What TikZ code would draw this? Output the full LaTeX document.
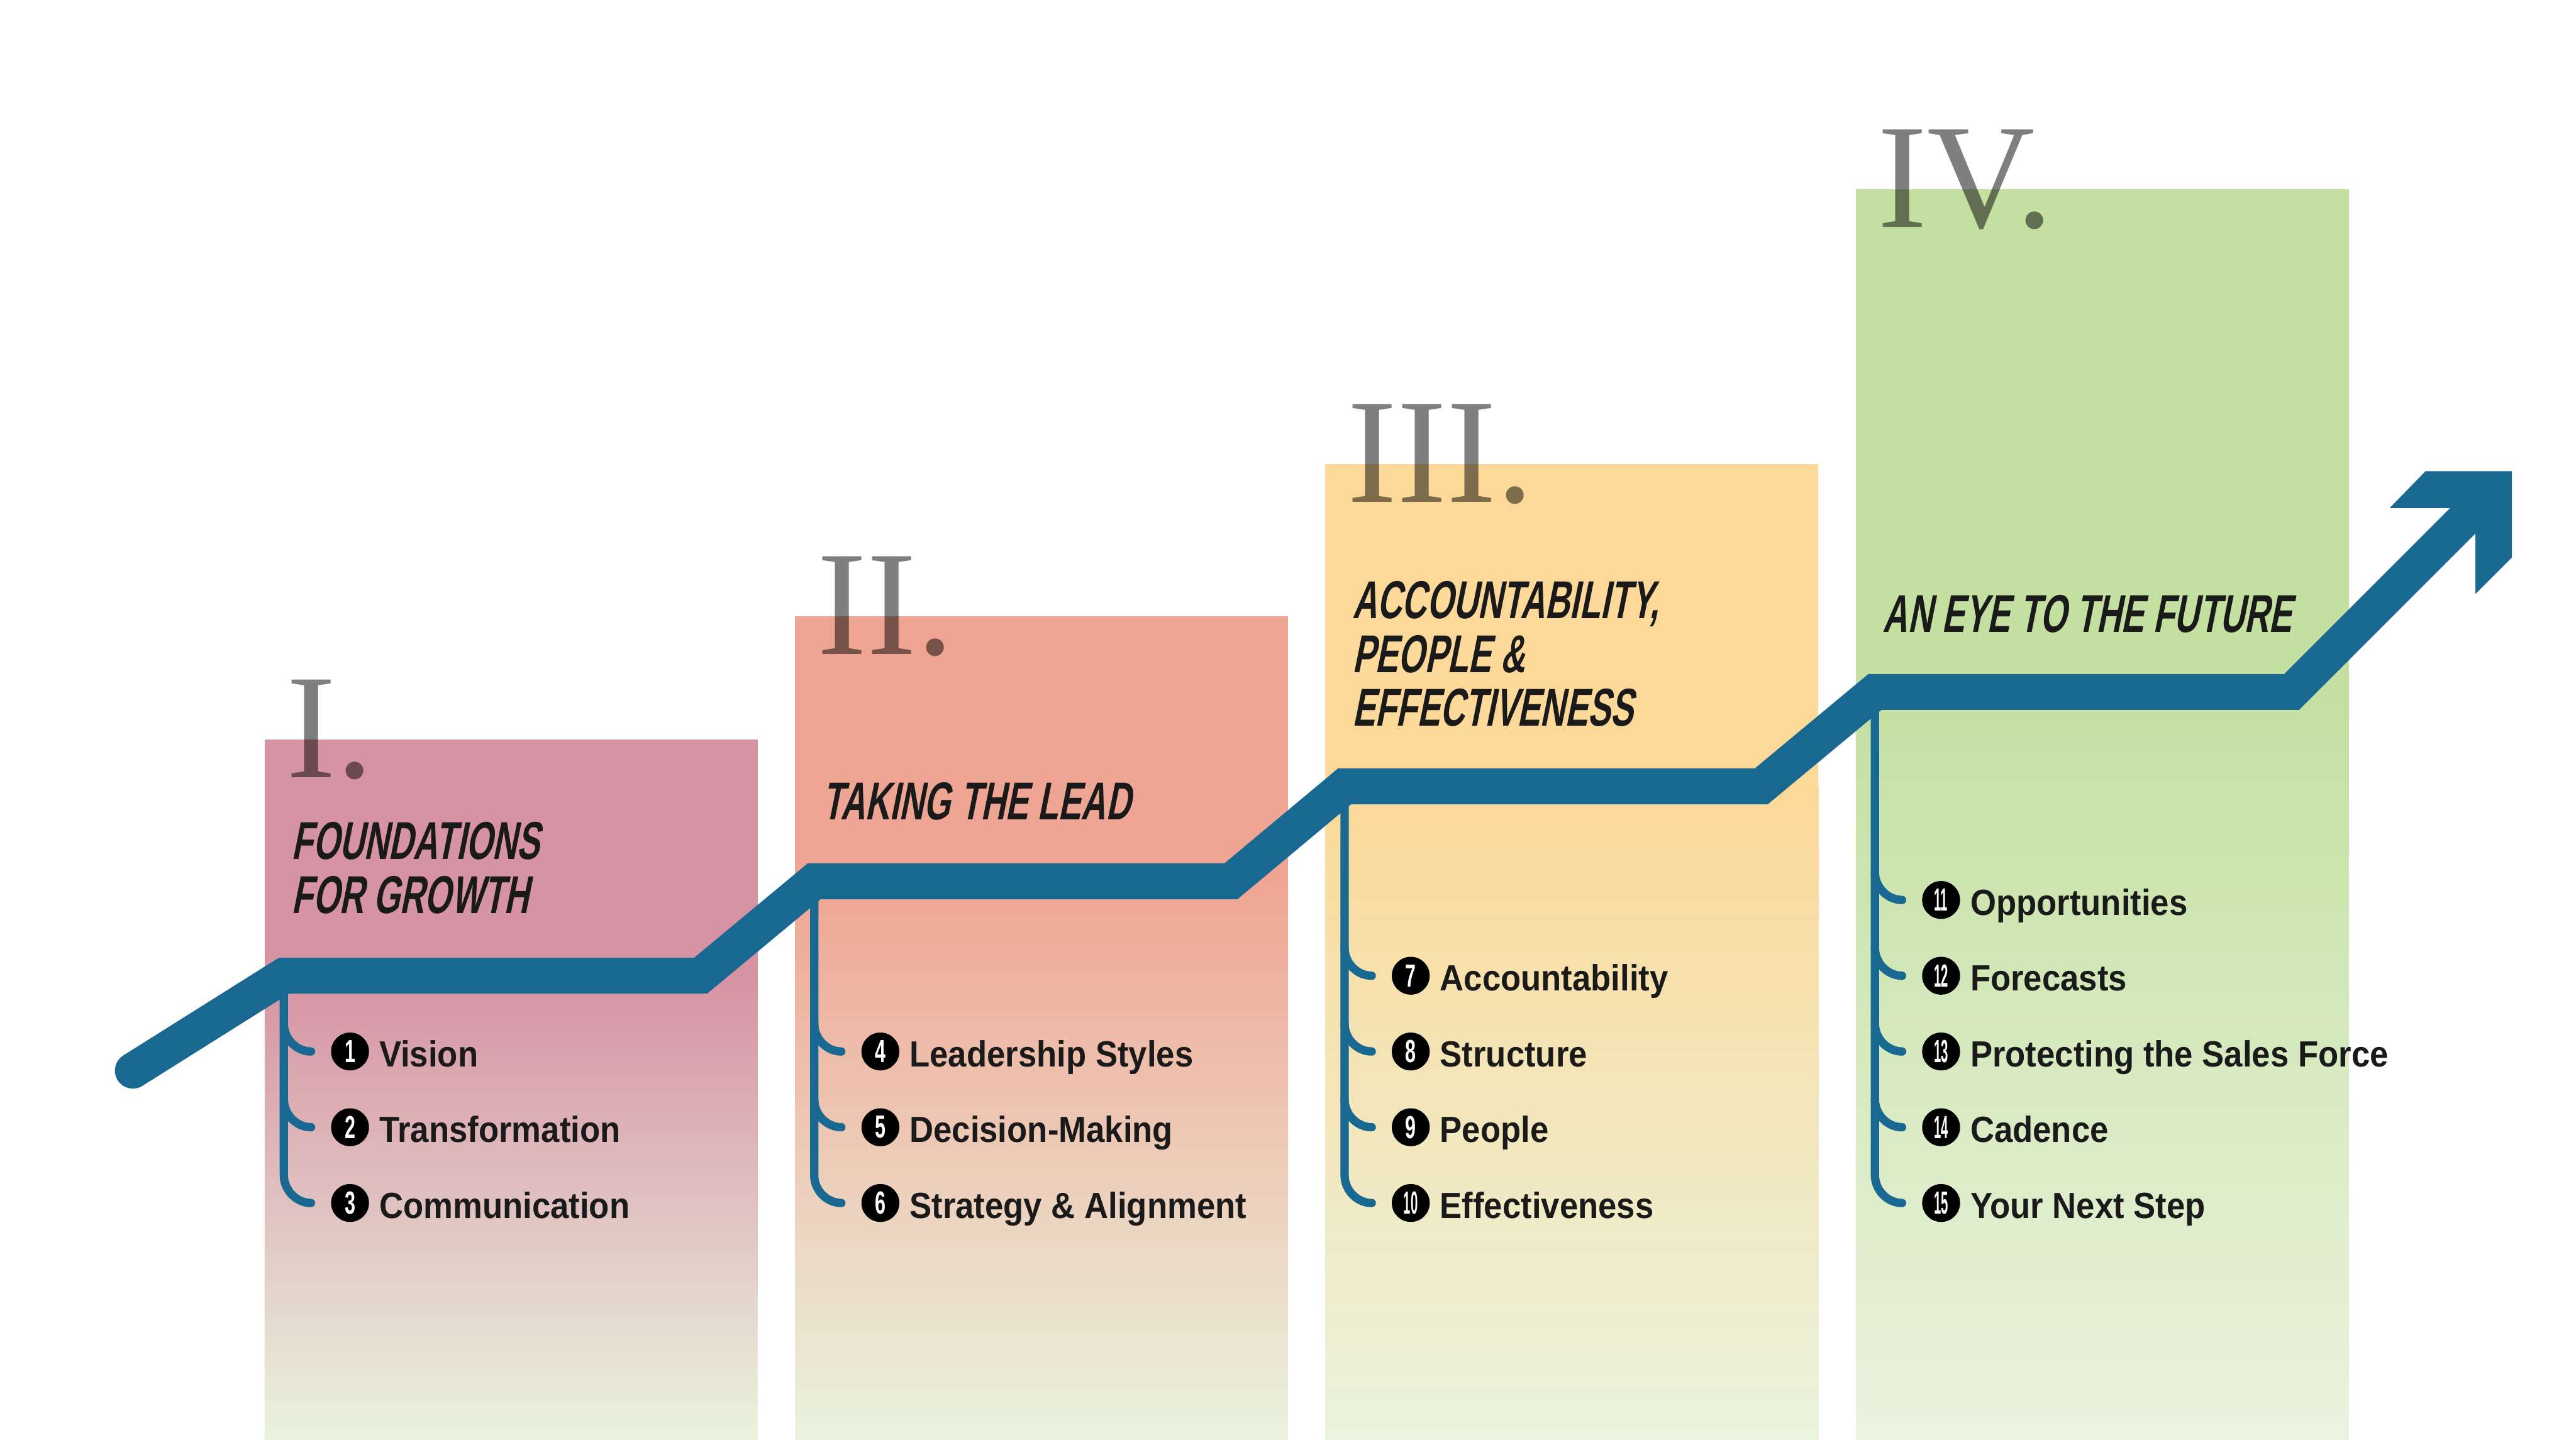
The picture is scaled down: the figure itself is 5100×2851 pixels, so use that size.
\documentclass[tikz,border=0pt]{standalone}
\usepackage{fontspec}
\usepackage{tikz}
\usepackage{xcolor}
\usetikzlibrary{positioning}
\setmainfont{Liberation Sans}
\newfontfamily\romanfont{Liberation Serif}
\newfontfamily\titlefont{Liberation Sans}[FakeStretch=0.64,FakeSlant=0.2]
\newfontfamily\itemfont{Liberation Sans}[FakeStretch=0.91]
\newfontfamily\numfont{Liberation Sans}[FakeStretch=0.6]
\newfontfamily\numfontcn{Liberation Sans}[FakeStretch=0.4]
\definecolor{lineblue}{RGB}{24,104,145}
\definecolor{boxpink}{RGB}{214,147,163}
\definecolor{boxsalmon}{RGB}{239,165,147}
\definecolor{boxsand}{RGB}{252,217,152}
\definecolor{boxgreen}{RGB}{195,224,161}
\definecolor{boxpale}{RGB}{234,243,222}
\definecolor{inkblack}{RGB}{26,26,26}

\begin{document}
\begin{tikzpicture}[x=0.01cm,y=-0.01cm,
  trend/.style={draw=lineblue,line width=0.71cm,line join=miter,line cap=round},
  branch/.style={draw=lineblue,line width=0.165cm,line cap=round},
  numeral/.style={anchor=base west,inner sep=0pt,font=\romanfont\fontsize{84}{84}\selectfont,text=black,text opacity=0.5},
  heading/.style={anchor=base west,inner sep=0pt,align=left,font=\titlefont\bfseries\fontsize{30}{30.4}\selectfont,text=inkblack},
  num/.style={circle,fill=black,text=white,minimum size=0.75cm,inner sep=0pt,font=\numfont\bfseries\fontsize{18}{18}\selectfont},
  numcn/.style={num,font=\numfontcn\bfseries\fontsize{18}{18}\selectfont},
  item/.style={inner sep=0pt,text height=0.6cm,text depth=0pt,font=\itemfont\bfseries\fontsize{20.5}{24}\selectfont,text=inkblack}
]
\fill[white] (0,0) rectangle (5100,2851);

\fill[boxpink] (524,1464) rectangle (1500,1933);
\shade[top color=boxpink,bottom color=boxpale] (524,1932) rectangle (1500,2851);
\fill[boxsalmon] (1574,1220) rectangle (2550,1746);
\shade[top color=boxsalmon,bottom color=boxpale] (1574,1745) rectangle (2550,2851);
\fill[boxsand] (2624,919) rectangle (3600,1558);
\shade[top color=boxsand,bottom color=boxpale] (2624,1557) rectangle (3600,2851);
\fill[boxgreen] (3674,375) rectangle (4650,1371);
\shade[top color=boxgreen,bottom color=boxpale] (3674,1370) rectangle (4650,2851);

\node[numeral] (r1) at (567,1539) {I.};
\node[numeral] (r2) at (1617,1295) {II.};
\node[numeral] (r3) at (2667,994) {III.};
\node[numeral] (r4) at (3717,450) {IV.};

\node[heading] (h1) at (577,1808) {FOUNDATIONS\\FOR GROWTH};
\node[heading] (h2) at (1627,1623) {TAKING THE LEAD};
\node[heading] (h3) at (2677,1438) {ACCOUNTABILITY,\\PEOPLE \&\\EFFECTIVENESS};
\node[heading] (h4) at (3727,1252) {AN EYE TO THE FUTURE};

\node[num] (n1) at (693,2082) {1};
\node[num] (n2) at (693,2232) {2};
\node[num] (n3) at (693,2382) {3};
\node[item,right=0.19cm of n1] (t1) {Vision};
\node[item,right=0.19cm of n2] (t2) {Transformation};
\node[item,right=0.19cm of n3] (t3) {Communication};

\node[num] (n4) at (1743,2082) {4};
\node[num] (n5) at (1743,2232) {5};
\node[num] (n6) at (1743,2382) {6};
\node[item,right=0.19cm of n4] (t4) {Leadership Styles};
\node[item,right=0.19cm of n5] (t5) {Decision-Making};
\node[item,right=0.19cm of n6] (t6) {Strategy \& Alignment};

\node[num] (n7) at (2793,1932) {7};
\node[num] (n8) at (2793,2082) {8};
\node[num] (n9) at (2793,2232) {9};
\node[numcn] (n10) at (2793,2382) {10};
\node[item,right=0.19cm of n7] (t7) {Accountability};
\node[item,right=0.19cm of n8] (t8) {Structure};
\node[item,right=0.19cm of n9] (t9) {People};
\node[item,right=0.19cm of n10] (t10) {Effectiveness};

\node[numcn] (n11) at (3843,1782) {11};
\node[numcn] (n12) at (3843,1932) {12};
\node[numcn] (n13) at (3843,2082) {13};
\node[numcn] (n14) at (3843,2232) {14};
\node[numcn] (n15) at (3843,2382) {15};
\node[item,right=0.19cm of n11] (t11) {Opportunities};
\node[item,right=0.19cm of n12] (t12) {Forecasts};
\node[item,right=0.19cm of n13] (t13) {Protecting the Sales Force};
\node[item,right=0.19cm of n14] (t14) {Cadence};
\node[item,right=0.19cm of n15] (t15) {Your Next Step};

\draw[branch] (562,1932) -- (562,2327) .. controls (562,2357) and (587,2382) .. ([xshift=-0.39cm]n3.west);
\draw[branch] (562,2027) .. controls (562,2057) and (587,2082) .. ([xshift=-0.39cm]n1.west);
\draw[branch] (562,2177) .. controls (562,2207) and (587,2232) .. ([xshift=-0.39cm]n2.west);

\draw[branch] (1612,1745) -- (1612,2327) .. controls (1612,2357) and (1637,2382) .. ([xshift=-0.39cm]n6.west);
\draw[branch] (1612,2027) .. controls (1612,2057) and (1637,2082) .. ([xshift=-0.39cm]n4.west);
\draw[branch] (1612,2177) .. controls (1612,2207) and (1637,2232) .. ([xshift=-0.39cm]n5.west);

\draw[branch] (2662,1557) -- (2662,2327) .. controls (2662,2357) and (2687,2382) .. ([xshift=-0.39cm]n10.west);
\draw[branch] (2662,1877) .. controls (2662,1907) and (2687,1932) .. ([xshift=-0.39cm]n7.west);
\draw[branch] (2662,2027) .. controls (2662,2057) and (2687,2082) .. ([xshift=-0.39cm]n8.west);
\draw[branch] (2662,2177) .. controls (2662,2207) and (2687,2232) .. ([xshift=-0.39cm]n9.west);

\draw[branch] (3712,1370) -- (3712,2327) .. controls (3712,2357) and (3737,2382) .. ([xshift=-0.39cm]n15.west);
\draw[branch] (3712,1727) .. controls (3712,1757) and (3737,1782) .. ([xshift=-0.39cm]n11.west);
\draw[branch] (3712,1877) .. controls (3712,1907) and (3737,1932) .. ([xshift=-0.39cm]n12.west);
\draw[branch] (3712,2027) .. controls (3712,2057) and (3737,2082) .. ([xshift=-0.39cm]n13.west);
\draw[branch] (3712,2177) .. controls (3712,2207) and (3737,2232) .. ([xshift=-0.39cm]n14.west);

\draw[trend] (263,2120) -- (562,1932) -- (1387,1932) -- (1612,1745) -- (2437,1745) -- (2662,1557) -- (3487,1557) -- (3712,1370) -- (4537,1370) -- (4937,970);
\fill[lineblue] (4802,933) -- (4973,933) -- (4973,1104) -- (4901,1176) -- (4901,1006) -- (4731,1006) -- cycle;
\end{tikzpicture}
\end{document}
